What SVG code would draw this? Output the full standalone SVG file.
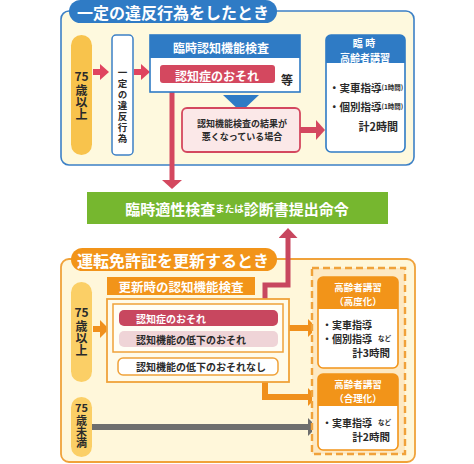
<svg xmlns="http://www.w3.org/2000/svg" width="474" height="464" viewBox="0 0 474 464">
  <style>
    text { font-family: "Noto Sans CJK JP", "Noto Sans", sans-serif; font-weight: 700; dominant-baseline: central; }
    .w { fill: #ffffff; }
    .k { fill: #2a2a2a; }
    .mid { text-anchor: middle; }
    .end { text-anchor: end; }
    .vert { writing-mode: vertical-rl; text-orientation: upright; }
  </style>
  <defs>
    <marker id="ah-red" viewBox="0 0 9 16" refX="0" refY="8" markerWidth="9" markerHeight="16" markerUnits="userSpaceOnUse" orient="auto">
      <path d="M0 0 L9 8 L0 16z" fill="#e0445f"/>
    </marker>
    <marker id="ah-red-lg" viewBox="0 0 9 20" refX="0" refY="10" markerWidth="9" markerHeight="20" markerUnits="userSpaceOnUse" orient="auto">
      <path d="M0 0 L9 10 L0 20z" fill="#d4485f"/>
    </marker>
    <marker id="ah-rose" viewBox="0 0 10 19" refX="0" refY="9.5" markerWidth="10" markerHeight="19" markerUnits="userSpaceOnUse" orient="auto">
      <path d="M0 0 L10 9.5 L0 19z" fill="#c8475f"/>
    </marker>
    <marker id="ah-or" viewBox="0 0 9 18" refX="0" refY="9" markerWidth="9" markerHeight="18" markerUnits="userSpaceOnUse" orient="auto">
      <path d="M0 0 L9 9 L0 18z" fill="#f0901c"/>
    </marker>
    <marker id="ah-gray" viewBox="0 0 9 18" refX="0" refY="9" markerWidth="9" markerHeight="18" markerUnits="userSpaceOnUse" orient="auto">
      <path d="M0 0 L9 9 L0 18z" fill="#6e6e6e"/>
    </marker>
  </defs>

  <rect width="474" height="464" fill="#ffffff"/>

  <!-- upper panel: traffic violation case -->
  <g id="panel-violation">
    <rect x="61" y="11" width="353" height="154" rx="8" fill="#fef9de" stroke="#3c80c6" stroke-width="1.6"/>
    <rect x="69" y="0" width="208" height="23" rx="11.5" fill="#2f7bc5"/>
    <text class="w mid" x="173" y="12" font-size="16">一定の違反行為をしたとき</text>
  </g>

  <!-- lower panel: licence renewal case -->
  <g id="panel-renewal">
    <rect x="61" y="259" width="354" height="203" rx="8" fill="#fff7da" stroke="#f0a23a" stroke-width="1.8"/>
    <rect x="71" y="248" width="206" height="23" rx="11.5" fill="#f29419"/>
    <text class="w mid" x="173" y="260" font-size="16">運転免許証を更新するとき</text>
  </g>

  <!-- connectors -->
  <g id="connectors" fill="none">
    <line x1="93" y1="72" x2="100" y2="72" stroke="#e0445f" stroke-width="6" marker-end="url(#ah-red)"/>
    <line x1="134" y1="72" x2="141" y2="72" stroke="#e0445f" stroke-width="6" marker-end="url(#ah-red)"/>
    <line x1="172" y1="83" x2="172" y2="180" stroke="#d4485f" stroke-width="5" marker-end="url(#ah-red-lg)"/>
    <line x1="300" y1="130" x2="316" y2="130" stroke="#d4485f" stroke-width="6" marker-end="url(#ah-red-lg)"/>
    <path d="M265 311 V285 H288 V238" stroke="#c8475f" stroke-width="5" marker-end="url(#ah-rose)"/>
    <line x1="93" y1="329" x2="100" y2="329" stroke="#f0901c" stroke-width="6" marker-end="url(#ah-or)"/>
    <line x1="283" y1="328" x2="308" y2="328" stroke="#f0901c" stroke-width="6" marker-end="url(#ah-or)"/>
    <path d="M265 375 V397 H308" stroke="#f0901c" stroke-width="6" marker-end="url(#ah-or)"/>
    <line x1="92" y1="427" x2="308" y2="427" stroke="#6e6e6e" stroke-width="6" marker-end="url(#ah-gray)"/>
  </g>

  <!-- upper panel nodes -->
  <g id="age75-top">
    <rect x="71" y="35" width="21" height="120" rx="10.5" fill="#f8c34c"/>
    <text class="k mid" x="81.5" y="75.5" font-size="12">75</text>
    <text class="k vert" x="81.5" y="84.5" font-size="12">歳以上</text>
  </g>

  <g id="violation">
    <rect x="112" y="35" width="21" height="120" rx="4" fill="#ffffff" stroke="#3c80c6" stroke-width="1.5"/>
    <text class="k vert" x="122.5" y="67.5" font-size="9.5" letter-spacing="1.5">一定の違反行為</text>
  </g>

  <g id="temp-cognitive-test">
    <rect x="150" y="35" width="150" height="57" fill="#ffffff" stroke="#2f7bc5" stroke-width="1.6"/>
    <rect x="150" y="35" width="150" height="23" fill="#2f7bc5"/>
    <text class="w mid" x="221" y="47" font-size="12">臨時認知機能検査</text>
    <rect x="160" y="65" width="115" height="18" rx="3" fill="#d4485f"/>
    <text class="w mid" x="217" y="75" font-size="12">認知症のおそれ</text>
    <text class="k mid" x="287" y="79" font-size="12">等</text>
    <polygon points="223,95 259,95 241,112" fill="#2f7bc5"/>
  </g>

  <g id="worse-result">
    <rect x="182" y="108" width="118" height="44" rx="5" fill="#fbe8e8" stroke="#d4485f" stroke-width="1.8"/>
    <text class="k mid" x="242" y="123" font-size="9" font-weight="400">認知機能検査の結果が</text>
    <text class="k mid" x="242" y="136" font-size="9" font-weight="400">悪くなっている場合</text>
  </g>

  <g id="temp-lecture">
    <rect x="326" y="35" width="79" height="117" rx="5" fill="#ffffff" stroke="#2f7bc5" stroke-width="1.6"/>
    <path d="M326 63 V40 a5 5 0 0 1 5 -5 H400 a5 5 0 0 1 5 5 V63z" fill="#2f7bc5"/>
    <text class="w mid" x="364" y="42.5" font-size="10">臨 時</text>
    <text class="w mid" x="365" y="57" font-size="10">高齢者講習</text>
    <text class="k" x="329" y="87" font-size="10.5">・実車指導<tspan font-size="6.5">(1時間)</tspan></text>
    <text class="k" x="329" y="106" font-size="10.5">・個別指導<tspan font-size="6.5">(1時間)</tspan></text>
    <text class="k end" x="398" y="126" font-size="11">計2時間</text>
  </g>

  <!-- result shared by both cases -->
  <g id="aptitude-test-order">
    <rect x="87" y="192" width="301" height="32" fill="#76b72f"/>
    <text class="w mid" x="237" y="208" font-size="15">臨時適性検査<tspan font-size="9.5">または</tspan>診断書提出命令</text>
  </g>

  <!-- lower panel nodes -->
  <g id="age75-bottom">
    <rect x="71" y="282" width="21" height="100" rx="10.5" fill="#fbcf66"/>
    <text class="k mid" x="81.5" y="311" font-size="12">75</text>
    <text class="k vert" x="81.5" y="320" font-size="12">歳以上</text>
  </g>

  <g id="under75">
    <rect x="71" y="397" width="21" height="60" rx="10.5" fill="#fbcf66"/>
    <text class="k mid" x="81.5" y="407" font-size="11">75</text>
    <text class="k vert" x="81.5" y="415" font-size="11">歳未満</text>
  </g>

  <g id="renewal-cognitive-test">
    <rect x="107" y="277" width="148" height="18" fill="#f29419"/>
    <text class="w mid" x="181" y="286" font-size="12.5">更新時の認知機能検査</text>
    <rect x="107" y="299" width="182" height="83" fill="#fffbea" stroke="#f0a23a" stroke-width="1.8"/>
    <rect x="113" y="304" width="170" height="48" fill="#fffef6" stroke="#f0a23a" stroke-width="1.5"/>
  </g>

  <g id="dementia-risk">
    <rect x="119" y="310" width="159" height="16" rx="5" fill="#c8475f"/>
    <text class="w" x="136" y="318" font-size="10">認知症のおそれ</text>
  </g>

  <g id="decline-risk">
    <rect x="119" y="331" width="159" height="16" rx="5" fill="#efd4d7"/>
    <text class="k" x="136" y="339" font-size="10">認知機能の低下のおそれ</text>
  </g>

  <g id="no-decline-risk">
    <rect x="118" y="358" width="160" height="17" rx="5" fill="#ffffff" stroke="#f0a23a" stroke-width="1.5"/>
    <text class="k" x="136" y="366.5" font-size="10">認知機能の低下のおそれなし</text>
  </g>

  <g id="lecture-group">
    <rect x="312" y="268" width="93" height="186" fill="#fde9c3" stroke="#f0a23a" stroke-width="2.4" stroke-dasharray="7 4"/>
  </g>

  <g id="lecture-advanced">
    <rect x="318" y="277" width="80" height="91" rx="5" fill="#ffffff" stroke="#f29419" stroke-width="1.6"/>
    <path d="M318 309 V282 a5 5 0 0 1 5 -5 H393 a5 5 0 0 1 5 5 V309z" fill="#f29419"/>
    <text class="w mid" x="358" y="286.5" font-size="9.5">高齢者講習</text>
    <text class="w mid" x="358" y="301" font-size="9.5">（高度化）</text>
    <text class="k" x="322" y="324" font-size="10">・実車指導</text>
    <text class="k" x="322" y="338" font-size="10">・個別指導<tspan dx="6" font-size="6.5">など</tspan></text>
    <text class="k end" x="390" y="352" font-size="10.5">計3時間</text>
  </g>

  <g id="lecture-rational">
    <rect x="318" y="374" width="80" height="76" rx="5" fill="#ffffff" stroke="#f29419" stroke-width="1.6"/>
    <path d="M318 406 V379 a5 5 0 0 1 5 -5 H393 a5 5 0 0 1 5 5 V406z" fill="#f29419"/>
    <text class="w mid" x="358" y="383.5" font-size="9.5">高齢者講習</text>
    <text class="w mid" x="358" y="398" font-size="9.5">（合理化）</text>
    <text class="k" x="322" y="422" font-size="10">・実車指導<tspan dx="6" font-size="6.5">など</tspan></text>
    <text class="k end" x="390" y="436" font-size="10.5">計2時間</text>
  </g>
</svg>
